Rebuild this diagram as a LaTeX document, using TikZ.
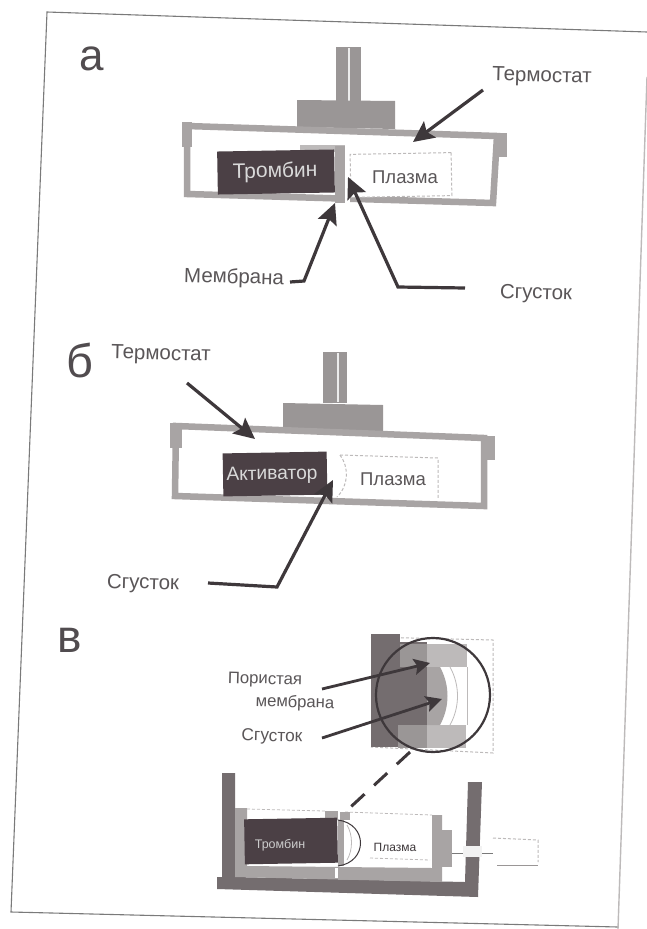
\documentclass[tikz,border=0pt]{standalone}
\usepackage{fontspec}
\setmainfont{Liberation Sans}
\usetikzlibrary{arrows.meta}
\definecolor{ink}{HTML}{3E383B}
\definecolor{txt}{HTML}{5A5658}
\definecolor{wall}{HTML}{A8A4A4}
\definecolor{mid}{HTML}{9A9696}
\definecolor{lite}{HTML}{BDBABA}
\definecolor{dark}{HTML}{4B4045}
\definecolor{deep}{HTML}{746D6F}
\definecolor{edge}{HTML}{7A7A7A}
\tikzset{
  lab/.style={font=\fontsize{20.5}{23}\selectfont,text=txt,rotate=-1.5,inner sep=0pt},
  small/.style={font=\fontsize{16.7}{19}\selectfont,text=txt,rotate=-1.5,inner sep=0pt},
  big/.style={font=\fontsize{44}{46}\selectfont,text=ink!90!white,inner sep=0pt},
  inv/.style={font=\fontsize{21}{23}\selectfont,text=white!85!black,rotate=1,inner sep=0pt},
  pl/.style={font=\fontsize{18.5}{21}\selectfont,text=txt,inner sep=0pt},
  arr/.style={draw=ink,line width=3.2pt,-{Stealth[length=21pt,width=20pt,inset=4pt]}},
  arrs/.style={draw=ink,line width=2.8pt,-{Stealth[length=16pt,width=16pt,inset=3pt]}},
  framewall/.style={draw=wall,line width=6.5pt,line join=miter},
  dashbox/.style={draw=lite,line width=1pt,densely dashed},
}
\begin{document}
\begin{tikzpicture}[x=1pt,y=-1pt]
\useasboundingbox (0,0) rectangle (647,929);
\fill[white] (0,0) rectangle (647,929);
% page edge
\draw[edge,line width=1.1pt] (647,32) -- (47,12) -- (11,912) -- (618,927);
\draw[lite,line width=1.4pt] (647,77) -- (618,929);

% ---------- a ----------
\node[big] (la) at (92,59) {а};
\fill[mid] (336,47) rectangle (361,102);
\draw[white!85!gray,line width=1.2pt] (349,48) -- (349,101);
\fill[mid] (297,100) -- (395,101) -- (395,129) -- (297,127) -- cycle;
\draw[framewall] (187,126) -- (497,136) -- (493,203) -- (187,194) -- cycle;
\fill[wall] (182,122) rectangle (192,147);
\fill[wall] (497,133) rectangle (507,157);
\fill[lite] (300,145) rectangle (345,152);
\fill[wall] (335,146) rectangle (345,203);
\fill[white] (345,150) rectangle (350,204);
\node[fill=dark,minimum width=117pt,minimum height=43pt,inner sep=0pt,rotate=1] (thr) at (276,172) {};
\node[inv] at (275,172) {Тромбин};
\node[dashbox,minimum width=101pt,minimum height=43pt,inner sep=0pt,rotate=1,fill=white] (pla) at (401,175) {};
\node[pl] at (405,177) {Плазма};

\node[lab] (ta) at (542,77) {Термостат};
\coordinate (taS) at (483,90);
\coordinate (taT) at (413,142);
\draw[arr] (taS) -- (taT);
\node[lab] (ma) at (234,278) {Мембрана};
\coordinate (maA) at (290,282);
\coordinate (maB) at (304,281);
\coordinate (maT) at (335,203);
\draw[arr] (maA) -- (maB) -- (maT);
\node[lab] (sa) at (536,294) {Сгусток};
\coordinate (saA) at (465,288);
\coordinate (saB) at (398,287);
\coordinate (saT) at (348,177);
\draw[arr] (saA) -- (saB) -- (saT);

% ---------- b ----------
\node[big,font=\fontsize{47}{49}\selectfont] (lb) at (80,360) {б};
\fill[mid] (323,352) rectangle (347,403);
\draw[white!85!gray,line width=1.2pt] (338,353) -- (338,402);
\fill[mid] (283,403) -- (383,405) -- (383,433) -- (283,431) -- cycle;
\draw[framewall] (176,426) -- (484,438) -- (484,506) -- (175,496) -- cycle;
\fill[wall] (170,423) rectangle (182,448);
\fill[wall] (484,436) rectangle (495,460);
\node[fill=dark,minimum width=104pt,minimum height=43pt,inner sep=0pt,rotate=1] (act) at (275,474) {};
\node[inv,font=\fontsize{19.2}{21}\selectfont] at (272,475) {Активатор};
\draw[dashbox] (340,455) .. controls (349,467) and (349,485) .. (337,497);
\draw[dashbox] (340,455) -- (438,458) -- (438,498);
\node[pl] (plb) at (393,479) {Плазма};

\node[lab] (tb) at (161,355) {Термостат};
\coordinate (tbS) at (187,383);
\coordinate (tbT) at (255,439);
\draw[arr] (tbS) -- (tbT);
\node[lab] (sb) at (143,584) {Сгусток};
\coordinate (sbA) at (208,583);
\coordinate (sbB) at (277,587);
\coordinate (sbT) at (333,480);
\draw[arr] (sbA) -- (sbB) -- (sbT);

% ---------- v ----------
\node[big,font=\fontsize{46}{48}\selectfont] (lc) at (70,640) {в};

% inset
\fill[white] (371,634) rectangle (493,753);
\draw[lite,line width=1pt,densely dashed] (371,637) -- (493,640) -- (493,753) -- (371,747);
\fill[deep] (371,634) rectangle (400,747);
\fill[deep] (400,642) rectangle (427,745);
\fill[lite] (400,644) rectangle (467,667);
\fill[lite] (398,725) rectangle (466,748);
\fill[mid] (400,644) rectangle (427,667);
\fill[mid] (398,725) rectangle (427,748);
\fill[deep] (400,667) rectangle (427,725);
\fill[wall] (427,667) -- (440,667) .. controls (450,685) and (450,707) .. (440,725) -- (427,725) -- cycle;
\draw[lite,line width=0.8pt] (450,667) .. controls (460,685) and (460,707) .. (450,725);
\draw[lite,line width=0.8pt] (467,667) -- (467,725);
\draw[ink,line width=2.2pt] (433,695) circle[radius=57pt];
\node[small] (pa) at (265,680) {Пористая};
\node[small] (pb) at (295,703) {мембрана};
\coordinate (paS) at (322,689);
\coordinate (paT) at (430,663);
\draw[arrs] (paS) -- (paT);
\node[small,font=\fontsize{17.3}{19}\selectfont] (sc) at (272,737) {Сгусток};
\coordinate (scS) at (322,738);
\coordinate (scT) at (442,699);
\draw[arrs] (scS) -- (scT);
\coordinate (zoomA) at (410,752);
\coordinate (zoomB) at (342,815);
\draw[ink,line width=3pt,dash pattern=on 18pt off 13pt] (zoomA) -- (zoomB);

% device
\fill[deep] (222,773) -- (235,773) -- (235,877) -- (465,882) -- (468,782) -- (482,782) -- (478,897) -- (217,889) -- (217,877) -- (222,877) -- cycle;
\fill[wall] (235,808) -- (247,808) -- (247,866) -- (432,868) -- (432,815) -- (442,815) -- (442,882) -- (235,877) -- cycle;
\draw[lite,line width=0.8pt,densely dashed] (247,809) -- (325,811);
\draw[lite,line width=0.8pt,densely dashed] (345,812) -- (432,815);
\fill[wall] (325,811) rectangle (338,820);
\fill[wall] (340,812) rectangle (350,820);
\node[fill=dark,minimum width=93pt,minimum height=45pt,inner sep=0pt,rotate=1] (thc) at (291,841) {};
\node[font=\fontsize{12.5}{14}\selectfont,text=white!80!black,inner sep=0pt] at (280,845) {Тромбин};
\fill[wall] (338,820) rectangle (344,866);
\fill[white] (335,868) rectangle (338,878);
\draw[ink,line width=1pt] (338,820) .. controls (368,824) and (368,862) .. (338,866);
\draw[lite,line width=0.8pt] (347,825) .. controls (353,835) and (353,850) .. (347,860);
\node[font=\fontsize{12}{14}\selectfont,text=ink,inner sep=0pt] (plc) at (395,847) {Плазма};
\draw[lite,line width=0.8pt,densely dashed] (370,858) -- (430,860);
\fill[wall] (442,830) rectangle (452,867);
\draw[edge,line width=0.8pt] (452,853) -- (493,853);
\fill[white!90!gray] (463,846) rectangle (482,857);
\draw[lite,line width=1pt,densely dashed] (493,838) -- (538,840) -- (538,862);
\draw[mid,line width=1pt] (497,865) -- (538,865);
\end{tikzpicture}
\end{document}
